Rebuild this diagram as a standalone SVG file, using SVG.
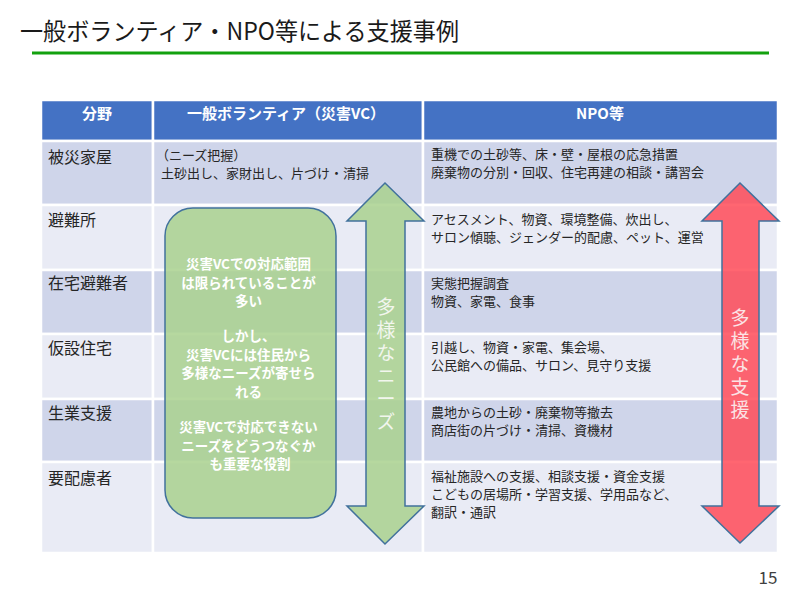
<svg xmlns="http://www.w3.org/2000/svg" width="800" height="600" viewBox="0 0 800 600">
<style>
text{font-family:"Noto Sans CJK JP","Noto Sans",sans-serif;}
.hd{fill:#4472C4;}
.r1{fill:#CFD5EA;}
.r2{fill:#E9EBF5;}
.cell{stroke:#FFFFFF;stroke-width:2.5;}
.ht{fill:#FFFFFF;font-size:15px;font-weight:bold;text-anchor:middle;}
.rt{fill:#262626;font-size:16px;}
.bt{fill:#262626;font-size:13px;}
.gt{fill:#FFFFFF;font-size:13.5px;font-weight:bold;text-anchor:middle;}
.vt{font-size:19px;writing-mode:vertical-rl;letter-spacing:4px;}
.nv{font-feature-settings:"vert" 0, "vrt2" 0;}
</style>
<rect x="0" y="0" width="800" height="600" fill="#FFFFFF"/>
<g id="title">
<text x="20" y="40" font-size="24" fill="#1A1A1A" textLength="439" lengthAdjust="spacingAndGlyphs">一般ボランティア・NPO等による支援事例</text>
<line x1="32" y1="53" x2="769" y2="53" stroke="#13A10E" stroke-width="3"/>
</g>
<g id="table">
<g id="header">
<rect class="hd cell" x="41" y="100" width="112" height="41"/>
<rect class="hd cell" x="153" y="100" width="270" height="41"/>
<rect class="hd cell" x="423" y="100" width="355" height="41"/>
<text class="ht" x="97" y="119">分野</text>
<text class="ht" x="286" y="119">一般ボランティア（災害VC）</text>
<text class="ht" x="600" y="119">NPO等</text>
</g>
<g id="row-hisai">
<rect class="r1 cell" x="41" y="141" width="112" height="64"/>
<rect class="r1 cell" x="153" y="141" width="270" height="64"/>
<rect class="r1 cell" x="423" y="141" width="355" height="64"/>
<text class="rt" x="48" y="163">被災家屋</text>
<text class="bt" x="156" y="160">（ニーズ把握）</text>
<text class="bt" x="161" y="178">土砂出し、家財出し、片づけ・清掃</text>
<text class="bt" x="431" y="159">重機での土砂等、床・壁・屋根の応急措置</text>
<text class="bt" x="431" y="177">廃棄物の分別・回収、住宅再建の相談・講習会</text>
</g>
<g id="row-hinanjo">
<rect class="r2 cell" x="41" y="205" width="112" height="65"/>
<rect class="r2 cell" x="153" y="205" width="270" height="65"/>
<rect class="r2 cell" x="423" y="205" width="355" height="65"/>
<text class="rt" x="48" y="226">避難所</text>
<text class="bt" x="431" y="224">アセスメント、物資、環境整備、炊出し、</text>
<text class="bt" x="431" y="242">サロン傾聴、ジェンダー的配慮、ペット、運営</text>
</g>
<g id="row-zaitaku">
<rect class="r1 cell" x="41" y="270" width="112" height="64"/>
<rect class="r1 cell" x="153" y="270" width="270" height="64"/>
<rect class="r1 cell" x="423" y="270" width="355" height="64"/>
<text class="rt" x="48" y="289">在宅避難者</text>
<text class="bt" x="431" y="288">実態把握調査</text>
<text class="bt" x="431" y="306">物資、家電、食事</text>
</g>
<g id="row-kasetsu">
<rect class="r2 cell" x="41" y="334" width="112" height="65"/>
<rect class="r2 cell" x="153" y="334" width="270" height="65"/>
<rect class="r2 cell" x="423" y="334" width="355" height="65"/>
<text class="rt" x="48" y="354">仮設住宅</text>
<text class="bt" x="431" y="352">引越し、物資・家電、集会場、</text>
<text class="bt" x="431" y="370">公民館への備品、サロン、見守り支援</text>
</g>
<g id="row-nariwai">
<rect class="r1 cell" x="41" y="399" width="112" height="63"/>
<rect class="r1 cell" x="153" y="399" width="270" height="63"/>
<rect class="r1 cell" x="423" y="399" width="355" height="63"/>
<text class="rt" x="48" y="419">生業支援</text>
<text class="bt" x="431" y="417">農地からの土砂・廃棄物等撤去</text>
<text class="bt" x="431" y="435">商店街の片づけ・清掃、資機材</text>
</g>
<g id="row-youhairyo">
<rect class="r2 cell" x="41" y="462" width="112" height="91"/>
<rect class="r2 cell" x="153" y="462" width="270" height="91"/>
<rect class="r2 cell" x="423" y="462" width="355" height="91"/>
<text class="rt" x="48" y="484">要配慮者</text>
<text class="bt" x="431" y="481">福祉施設への支援、相談支援・資金支援</text>
<text class="bt" x="431" y="499">こどもの居場所・学習支援、学用品など、</text>
<text class="bt" x="431" y="517">翻訳・通訳</text>
</g>
</g>
<g id="vc-note">
<rect x="165" y="208" width="171" height="310" rx="28" ry="28" fill="#A9D18E" fill-opacity="0.85" stroke="#41719C" stroke-width="1.5"/>
<text class="gt" x="250">
<tspan x="250" y="269">災害VCでの対応範囲</tspan>
<tspan x="250" y="287.5">は限られていることが</tspan>
<tspan x="250" y="306">多い</tspan>
<tspan x="250" y="341">しかし、</tspan>
<tspan x="250" y="359.5">災害VCには住民から</tspan>
<tspan x="250" y="378">多様なニーズが寄せら</tspan>
<tspan x="250" y="396.5">れる</tspan>
<tspan x="250" y="432">災害VCで対応できない</tspan>
<tspan x="250" y="450.5">ニーズをどうつなぐか</tspan>
<tspan x="250" y="469">も重要な役割</tspan>
</text>
</g>
<g id="connectors">
<g id="needs-arrow">
<polygon points="385,183 424,221 405,221 405,506 424,506 385,544 347,506 366,506 366,221 347,221" fill="#A9D18E" fill-opacity="0.85" stroke="#41719C" stroke-width="1.5"/>
<text class="vt" x="386" y="297" fill="#F2F6EE">多様なニ<tspan class="nv">ー</tspan>ズ</text>
</g>
<g id="support-arrow">
<polygon points="740,183 779,221 759,221 759,506 779,506 740,543 702,506 722,506 722,221 702,221" fill="#FF4B58" fill-opacity="0.85" stroke="#41719C" stroke-width="1.5"/>
<text class="vt" x="740" y="308" fill="#FBE3E5">多様な支援</text>
</g>
</g>
<text x="768" y="584" font-size="17" fill="#404040" text-anchor="middle">15</text>
</svg>
